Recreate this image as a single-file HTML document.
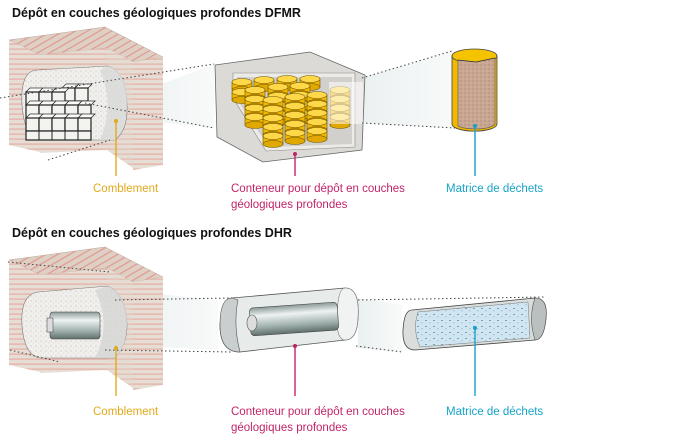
<!DOCTYPE html>
<html><head><meta charset="utf-8"><style>
body{margin:0;background:#fff;width:690px;height:440px;overflow:hidden}
svg{display:block}
text{font-family:"Liberation Sans",sans-serif}
</style></head><body>
<svg width="690" height="440" viewBox="0 0 690 440" xmlns="http://www.w3.org/2000/svg">
<defs>
<pattern id="hs" width="6" height="5" patternUnits="userSpaceOnUse">
<rect width="6" height="5" fill="#e6ddd4"/><rect y="3.6" width="6" height="1" fill="#e6a59a"/></pattern>
<pattern id="ds" width="6" height="6" patternUnits="userSpaceOnUse" patternTransform="rotate(-30)">
<rect width="6" height="6" fill="#dfd0c5"/><rect y="4" width="6" height="1.2" fill="#e0988e"/></pattern>
<pattern id="speck" width="5" height="5" patternUnits="userSpaceOnUse">
<rect width="5" height="5" fill="#f1efec"/><circle cx="1" cy="1" r=".5" fill="#aaa"/><circle cx="3.5" cy="3" r=".4" fill="#bbb"/></pattern>
<pattern id="brown" width="4" height="4" patternUnits="userSpaceOnUse">
<rect width="4" height="4" fill="#c8a690"/><circle cx="1" cy="1" r=".6" fill="#a98470"/><circle cx="3" cy="3" r=".5" fill="#e0c8b8"/></pattern>
<pattern id="blue" width="8" height="6" patternUnits="userSpaceOnUse">
<rect width="8" height="6" fill="#cfe6f2"/><rect x="1" y="2" width="2" height=".8" fill="#6f8fa0"/><rect x="5" y="4.5" width="1.5" height=".7" fill="#8aa9ba"/></pattern>
<linearGradient id="metal" x1="0" y1="0" x2="0" y2="1">
<stop offset="0" stop-color="#8b9a98"/><stop offset=".3" stop-color="#eef3f2"/><stop offset=".7" stop-color="#9fb0ad"/><stop offset="1" stop-color="#5f6f6c"/></linearGradient>
<linearGradient id="beam" x1="0" y1="0" x2="1" y2="0">
<stop offset="0" stop-color="#e8eeee" stop-opacity=".9"/><stop offset="1" stop-color="#eef2f2" stop-opacity=".4"/></linearGradient>
<g id="coin"><rect x="-10" y="0" width="20" height="8" fill="#f2b800" stroke="#6b5200" stroke-width=".6"/><ellipse cx="0" cy="8" rx="10" ry="3.5" fill="#e0a800" stroke="#6b5200" stroke-width=".6"/><ellipse cx="0" cy="0" rx="10" ry="3.5" fill="#ffd84a" stroke="#6b5200" stroke-width=".6"/></g>
<g id="cube"><polygon points="0,4 4,0 17,0 13,4" fill="#fbfbf9" stroke="#333" stroke-width=".8"/><rect x="0" y="4" width="13" height="13" fill="#f3f3f0" stroke="#222" stroke-width="1.2"/></g>
<g id="block">
<polygon points="9,40 105,27 163,57 133,62 107,48 40,55" fill="url(#ds)" stroke="#b9a79b" stroke-width=".5"/>
<polygon points="9,40 40,55 40,152 9,145" fill="url(#hs)"/>
<polygon points="40,55 107,48 107,150 40,153" fill="url(#hs)"/>
<polygon points="107,48 133,62 133,168 107,150" fill="#e4d8cf"/>
<polygon points="107,48 133,62 133,168 107,150" fill="url(#hs)" opacity=".7"/>
<polygon points="133,62 163,57 163,165 133,170" fill="url(#hs)"/>
</g>
</defs>

<text x="12" y="17" font-size="12.5" font-weight="bold" fill="#111">Dépôt en couches géologiques profondes DFMR</text>
<text x="12" y="237" font-size="12.5" font-weight="bold" fill="#111">Dépôt en couches géologiques profondes DHR</text>

<polygon points="120,100 214,64 214,128 120,118" fill="url(#beam)"/>
<polygon points="362,78 452,52 455,128 362,123" fill="url(#beam)"/>

<use href="#block"/>
<path d="M38,70 Q20,70 22,105 Q24,135 40,140 L115,140 Q128,130 127,105 Q126,72 108,66 Z" fill="url(#speck)" stroke="#777" stroke-width=".6"/>
<path d="M108,66 Q128,72 127,105 Q126,130 115,140 L100,140 Q115,105 100,70Z" fill="#d8d8d8" opacity=".8"/>
<use href="#cube" x="62" y="84"/><use href="#cube" x="75" y="84"/>
<use href="#cube" x="26" y="88"/><use href="#cube" x="39" y="88"/><use href="#cube" x="52" y="88"/>
<use href="#cube" x="26" y="101"/><use href="#cube" x="39" y="101"/><use href="#cube" x="52" y="101"/><use href="#cube" x="65" y="101"/><use href="#cube" x="78" y="101"/>
<use href="#cube" x="26" y="114"/><use href="#cube" x="39" y="114"/><use href="#cube" x="52" y="114"/><use href="#cube" x="65" y="114"/><use href="#cube" x="78" y="114"/>
<rect x="26" y="131" width="65" height="9" fill="#f3f3f0" stroke="#222" stroke-width="1.2"/>
<line x1="39" y1="131" x2="39" y2="140" stroke="#222"/><line x1="52" y1="131" x2="52" y2="140" stroke="#222"/><line x1="65" y1="131" x2="65" y2="140" stroke="#222"/><line x1="78" y1="131" x2="78" y2="140" stroke="#222"/>

<!-- container 1 -->
<polygon points="215,65 310,52 365,75 362,150 263,162 217,137" fill="#dcdad6" stroke="#666" stroke-width=".8"/>
<polygon points="233,73 355,73 355,147 266,151 233,98" fill="#ecebe8" stroke="#888" stroke-width=".6"/>
<polygon points="237,77 352,77 352,144 269,147 237,100" fill="#d2d0cc"/>
<use href="#coin" x="242" y="82"/><use href="#coin" x="264" y="80"/><use href="#coin" x="287" y="79"/><use href="#coin" x="310" y="79"/>
<use href="#coin" x="242" y="92"/>
<g><use href="#coin" x="255" y="90"/><use href="#coin" x="255" y="99"/><use href="#coin" x="255" y="108"/><use href="#coin" x="255" y="117"/></g>
<g><use href="#coin" x="278" y="87"/><use href="#coin" x="278" y="96"/><use href="#coin" x="278" y="105"/><use href="#coin" x="278" y="114"/></g>
<g><use href="#coin" x="300" y="86"/><use href="#coin" x="300" y="95"/><use href="#coin" x="300" y="104"/><use href="#coin" x="300" y="113"/></g>
<g><use href="#coin" x="273" y="100"/><use href="#coin" x="273" y="109"/><use href="#coin" x="273" y="118"/><use href="#coin" x="273" y="127"/><use href="#coin" x="273" y="136"/></g>
<g><use href="#coin" x="295" y="97"/><use href="#coin" x="295" y="106"/><use href="#coin" x="295" y="115"/><use href="#coin" x="295" y="124"/><use href="#coin" x="295" y="133"/></g>
<g><use href="#coin" x="317" y="95"/><use href="#coin" x="317" y="104"/><use href="#coin" x="317" y="113"/><use href="#coin" x="317" y="122"/><use href="#coin" x="317" y="131"/></g>
<g><use href="#coin" x="340" y="90"/><use href="#coin" x="340" y="99"/><use href="#coin" x="340" y="108"/><use href="#coin" x="340" y="117"/></g>
<rect x="329" y="82" width="34" height="42" fill="#fff" opacity=".55"/>

<!-- cask -->
<path d="M452,56 L452,124 A22,7 0 0 0 497,124 L497,56 Z" fill="#f2b800" stroke="#444" stroke-width=".8"/>
<ellipse cx="474.5" cy="56" rx="22.5" ry="7" fill="#f5c300" stroke="#444" stroke-width=".8"/>
<path d="M458,60 L476,62 L495,58 L495,124 A20,6 0 0 1 458,126 Z" fill="url(#brown)" stroke="#555" stroke-width=".6"/>
<path d="M458,60 L476,62 L495,58" fill="none" stroke="#333" stroke-width=".8"/>

<g stroke="#444" stroke-width="1" stroke-dasharray="1.5,2.5" fill="none">
<line x1="0" y1="98" x2="214" y2="64"/><line x1="48" y1="160" x2="110" y2="140"/><line x1="85" y1="103" x2="214" y2="128"/>
<line x1="362" y1="78" x2="452" y2="51"/><line x1="362" y1="123" x2="455" y2="128"/>
</g>

<!-- bottom -->
<polygon points="120,290 218,300 218,350 120,345" fill="url(#beam)"/>
<polygon points="358,298 402,305 402,352 358,348" fill="url(#beam)"/>
<use href="#block" y="220"/>
<path d="M38,292 Q20,295 22,325 Q24,355 40,358 L115,358 Q127,345 127,325 Q126,295 108,286 Z" fill="url(#speck)" stroke="#777" stroke-width=".6"/>
<path d="M108,286 Q128,295 127,325 Q126,350 115,358 L95,358 Q112,325 95,290Z" fill="#d4d4d4" opacity=".8"/>
<rect x="50" y="312" width="50" height="27" rx="3" fill="url(#metal)" stroke="#444" stroke-width=".6"/>
<rect x="47" y="318" width="6" height="14" fill="#ddd" stroke="#555" stroke-width=".6"/>

<path d="M232,298 L345,288 Q360,288 358,318 Q357,340 345,340 L240,352 Q220,352 220,325 Q222,298 232,298Z" fill="#e7ebea" stroke="#555" stroke-width=".8"/>
<path d="M345,288 Q360,288 358,318 Q357,340 345,340 Q336,340 337,315 Q338,288 345,288Z" fill="#f1f3f3" stroke="#777" stroke-width=".6"/>
<path d="M232,298 Q220,298 220,325 Q220,352 240,352 Q233,325 238,300Z" fill="#c9cfce" stroke="#555" stroke-width=".6"/>
<rect x="250" y="305" width="88" height="28" rx="4" fill="url(#metal)" stroke="#444" stroke-width=".6" transform="rotate(-4 294 319)"/>
<ellipse cx="252" cy="323" rx="5" ry="8" fill="#ddd" stroke="#555" stroke-width=".6"/>

<path d="M412,310 L535,298 Q548,298 546,318 Q544,340 535,340 L415,350 Q402,350 403,330 Q404,310 412,310Z" fill="#d9dddc" stroke="#444" stroke-width=".8"/>
<path d="M418,312 L528,302 L530,338 L420,347 Q412,330 418,312Z" fill="url(#blue)" stroke="#777" stroke-width=".5"/>
<path d="M535,298 Q548,298 546,318 Q544,340 535,340 Q528,318 535,298Z" fill="#b9c0bf" stroke="#555" stroke-width=".6"/>

<g stroke="#444" stroke-width="1" stroke-dasharray="1.5,2.5" fill="none">
<line x1="8" y1="262" x2="110" y2="272"/><line x1="10" y1="350" x2="60" y2="362"/>
<line x1="115" y1="300" x2="232" y2="298"/><line x1="105" y1="350" x2="232" y2="352"/>
<line x1="358" y1="300" x2="545" y2="297"/><line x1="356" y1="346" x2="402" y2="352"/>
</g>

<g stroke-width="1.4">
<line x1="116" y1="121" x2="116" y2="176" stroke="#e2a91b"/><circle cx="116" cy="121" r="2" fill="#e2a91b"/>
<line x1="295" y1="154" x2="295" y2="176" stroke="#c0246a"/><circle cx="295" cy="154" r="2" fill="#c0246a"/>
<line x1="475" y1="126" x2="475" y2="176" stroke="#17a3c8"/><circle cx="475" cy="126" r="2" fill="#17a3c8"/>
<line x1="116" y1="348" x2="116" y2="396" stroke="#e2a91b"/><circle cx="116" cy="348" r="2" fill="#e2a91b"/>
<line x1="295" y1="346" x2="295" y2="396" stroke="#c0246a"/><circle cx="295" cy="346" r="2" fill="#c0246a"/>
<line x1="475" y1="328" x2="475" y2="396" stroke="#17a3c8"/><circle cx="475" cy="328" r="2" fill="#17a3c8"/>
</g>

<g font-size="11.5">
<text x="93" y="192" fill="#e2a91b">Comblement</text>
<text x="231" y="192" fill="#c0246a">Conteneur pour dépôt en couches</text>
<text x="231" y="208" fill="#c0246a">géologiques profondes</text>
<text x="446" y="192" fill="#17a3c8">Matrice de déchets</text>
<text x="93" y="415" fill="#e2a91b">Comblement</text>
<text x="231" y="415" fill="#c0246a">Conteneur pour dépôt en couches</text>
<text x="231" y="431" fill="#c0246a">géologiques profondes</text>
<text x="446" y="415" fill="#17a3c8">Matrice de déchets</text>
</g>
</svg>
</body></html>
